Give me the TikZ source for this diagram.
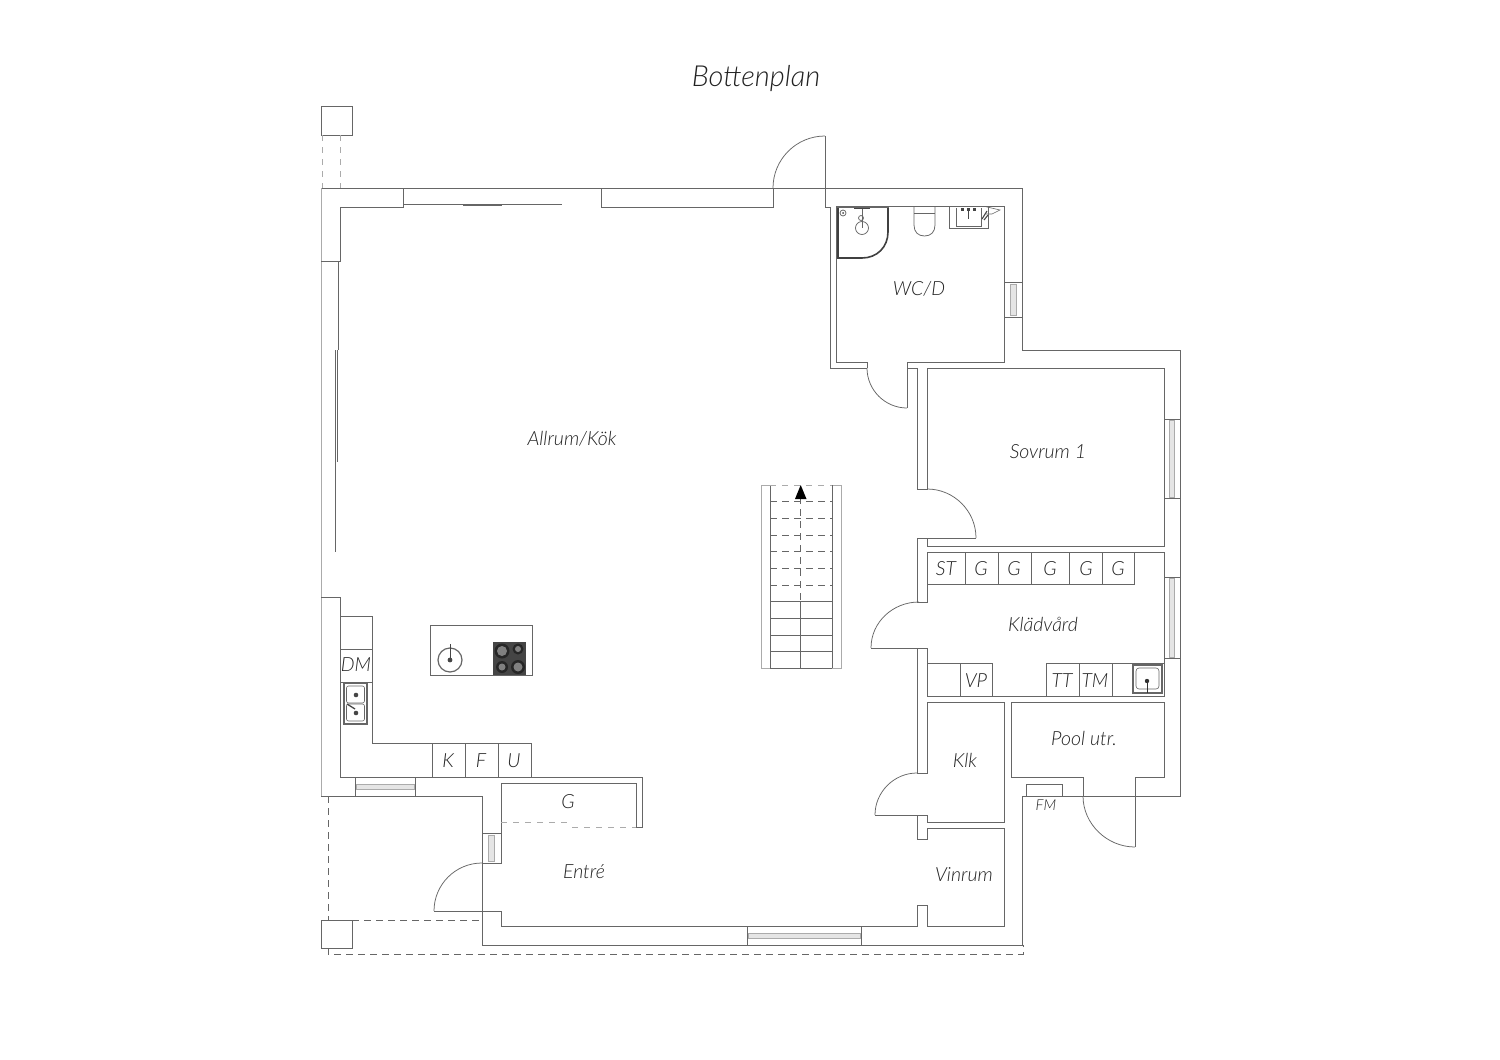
\documentclass[tikz,border=0pt]{standalone}
\usepackage{fontspec}
\setmainfont{Lato}[ItalicFont={Lato Light Italic}]
\usetikzlibrary{arrows.meta}
\definecolor{ln}{HTML}{666666}
\definecolor{lnl}{HTML}{ABABAB}
\definecolor{txt}{HTML}{222222}
\definecolor{hob}{HTML}{454545}
\tikzset{
  wall/.style={draw=ln,line width=0.85pt,line join=miter},
  lite/.style={draw=lnl,line width=0.9pt},
  fine/.style={draw=ln,line width=0.75pt},
  heavy/.style={draw=ln,line width=2pt},
  dashd/.style={draw=ln,line width=0.75pt,dash pattern=on 7pt off 5pt},
  dashl/.style={draw=lnl,line width=0.9pt,dash pattern=on 6pt off 6pt},
  lab/.style={text=txt,font=\itshape\fontsize{17.5}{20}\selectfont,inner sep=0pt},
  lab2/.style={lab,font=\itshape\fontsize{19.5}{22}\selectfont},
  winpane/.style={draw=lnl,line width=0.7pt,fill=black!10},
}
\begin{document}
\begin{tikzpicture}[x=1pt,y=-1pt]
\useasboundingbox (0,0) rectangle (1500,1060);
\fill[white] (0,0) rectangle (1500,1060);

% outer shell
\draw[wall] (321,188) -- (1022,188) -- (1022,350) -- (1180,350) -- (1180,796) -- (1022,796) -- (1022,945) -- (482,945) -- (482,796) -- (321,796);
\draw[lite] (321,188) -- (321,796);

% north / west inner walls
\draw[wall] (403,188) -- (403,207) -- (340,207) -- (340,261) -- (321,261);
\draw[wall] (338.5,261) -- (338.5,350);
\draw[fine] (337,350) -- (337,462);
\draw[fine] (335,350) -- (335,552);
\draw[wall] (403,204) -- (562,204);
\draw[heavy,line width=1.4pt] (463,205) -- (502,205);
\draw[wall] (601,188) -- (601,207) -- (773,207) -- (773,188);
\draw[wall] (825,136) -- (825,207) -- (830,207) -- (830,368) -- (867,368);
\draw[wall] (321,597) -- (340,597) -- (340,777);

% doors (arcs)
\draw[fine] (773,188) .. controls (773,159.3) and (796.3,136) .. (825,136);
\draw[fine] (867,368) .. controls (867,390) and (885,408) .. (907,408);
\draw[fine] (927,489) .. controls (954,489) and (976,511) .. (976,538);
\draw[fine] (919,602) .. controls (893,602) and (871,622) .. (871,648);
\draw[fine] (917,773) .. controls (894,773) and (875,792) .. (875,815);
\draw[fine] (1083,796) .. controls (1083,824) and (1107,847) .. (1135,847);
\draw[fine] (482,863) .. controls (455.5,863) and (434,884.5) .. (434,911);

% WC/D room
\draw[wall] (867,368) -- (867,362) -- (836,362) -- (836,206) -- (1004,206) -- (1004,362) -- (907,362) -- (907,408);
\draw[wall] (907,368) -- (917,368) -- (917,489) -- (927,489) -- (927,368) -- (1164,368) -- (1164,546) -- (927,546) -- (927,538);
\draw[wall] (976,538) -- (917,538) -- (917,602) -- (927,602) -- (927,552) -- (1164,552) -- (1164,696) -- (927,696) -- (927,648) -- (871,648);
\draw[wall] (917,648) -- (917,773) -- (927,773) -- (927,702) -- (1004,702) -- (1004,822) -- (927,822) -- (927,815) -- (875,815);
\draw[wall] (917,815) -- (917,839) -- (927,839) -- (927,828) -- (1004,828) -- (1004,926) -- (927,926) -- (927,905) -- (917,905) -- (917,926) -- (501,926) -- (501,911) -- (434,911);

% pool room
\draw[wall] (1083,796) -- (1083,777) -- (1011,777) -- (1011,702) -- (1164,702) -- (1164,777) -- (1135,777) -- (1135,847);
\draw[wall] (1026,796) -- (1026,784) -- (1062,784) -- (1062,796);

% entry / G closet
\draw[wall] (340,777) -- (642,777) -- (642,827) -- (636,827) -- (636,783) -- (501,783) -- (501,863) -- (482,863);
\draw[dashl] (501,822.5) -- (572,822.5);
\draw[dashl] (572,827) -- (636,827);

% kitchen
\draw[wall] (340,616) -- (372,616) -- (372,743) -- (531,743) -- (531,777);
\draw[wall] (340,649) -- (372,649);
\draw[wall] (340,682) -- (372,682);
\draw[wall] (432,743) -- (432,777);
\draw[wall] (465,743) -- (465,777);
\draw[wall] (498,743) -- (498,777);

% island
\draw[wall] (430,625) rectangle (532,675);
\draw[wall,line width=1.2pt] (450,660) circle[radius=12pt];
\fill[hob] (450,660) circle[radius=2.4pt];
\draw[hob,line width=1pt] (450,644) -- (450,660);
\fill[hob] (493,642) rectangle (526,675);
\foreach \cx/\cy/\ro/\ri in {502/651/7.5/5,518/649/5.5/3,502/667/6/3.5,518/667/7/4.5}{
  \fill[black!85] (\cx,\cy) circle[radius=\ro pt];
  \fill[black!50] (\cx,\cy) circle[radius=\ri pt];
}

% double sink
\draw[ln,line width=1.3pt] (344,683) rectangle (367,724);
\draw[fine,line width=0.6pt,rounded corners=2pt] (346.5,686) rectangle (364.5,703);
\draw[fine,line width=0.6pt,rounded corners=2pt] (346.5,704) rectangle (364.5,721);
\fill[hob] (356,695) circle[radius=2.3pt];
\fill[hob] (356,713) circle[radius=2.3pt];
\draw[hob,line width=1.3pt] (347,704) -- (355,709);

% laundry fixtures
\draw[wall] (927,584) -- (1134,584) -- (1134,552);
\foreach \x in {965,998,1031,1069,1102} \draw[wall] (\x,552) -- (\x,584);
\draw[wall] (927,663) -- (992,663) -- (992,696);
\draw[wall] (960,663) -- (960,696);
\draw[wall] (1046,696) -- (1046,663) -- (1164,663);
\draw[wall] (1079,663) -- (1079,696);
\draw[wall] (1112,663) -- (1112,696);
\draw[ln,line width=1.5pt] (1133,665) rectangle (1162,693);
\draw[fine,line width=0.6pt,rounded corners=3pt] (1136,668) rectangle (1159,689);
\fill[black!80] (1147,681) circle[radius=2.2pt];
\draw[black!80,line width=0.9pt] (1147,681) -- (1147,693);

% windows
\draw[wall] (1164,419) -- (1180,419);
\draw[wall] (1164,498) -- (1180,498);
\draw[winpane] (1169,420) rectangle (1174,497);
\draw[wall] (1164,577) -- (1180,577);
\draw[wall] (1164,658) -- (1180,658);
\draw[winpane] (1169,578) rectangle (1174,657);
\draw[wall] (1004,282) -- (1022,282);
\draw[wall] (1004,317) -- (1022,317);
\draw[winpane] (1010,284) rectangle (1016,315);
\draw[wall] (482,833) -- (501,833);
\draw[winpane] (488,835) rectangle (494,861);
\draw[wall] (355,777) -- (355,796);
\draw[wall] (415,777) -- (415,796);
\draw[winpane] (356,784) rectangle (414,789);
\draw[wall] (747,926) -- (747,945);
\draw[wall] (861,926) -- (861,945);
\draw[winpane] (748,933) rectangle (860,938);

% bathroom fixtures
\draw[draw=black!75,line width=1.6pt] (838,207) -- (838,258) -- (862,258) .. controls (877,258) and (888,247) .. (888,232) -- (888,207);
\draw[ln,line width=0.6pt] (836.5,207) -- (889,207);
\draw[fine] (843,213) circle[radius=3pt];
\fill[hob] (843,213) circle[radius=1pt];
\draw[hob,line width=1.3pt] (854,208.5) -- (870,208.5);
\draw[fine] (862,228) circle[radius=6.5pt];
\draw[fine] (862,209) -- (862,228);
\draw[fine] (861,218) circle[radius=2.5pt];
\draw[fine] (914,206) -- (914,225) .. controls (914,232) and (918,236) .. (924.5,236) .. controls (931,236) and (935,232) .. (935,225) -- (935,206);
\draw[fine] (914,213) -- (935,213);
\draw[fine] (949,206) -- (949,228) -- (988,228) -- (988,206);
\draw[fine] (956,208) -- (956,226.5) -- (981,226.5) -- (981,208);
\fill[hob] (961,207.5) rectangle (964,211);
\fill[hob] (967,207.5) rectangle (970,211);
\fill[hob] (973,207.5) rectangle (976,211);
\draw[hob,line width=1pt] (968.5,209) -- (968.5,219);
\draw[fine,line width=0.6pt] (985,206.5) -- (1000,210) -- (992,214) -- (986,214);
\draw[hob,line width=1.1pt] (982,219) -- (987,211);
\draw[hob,line width=1.1pt] (984,220) -- (988,215);

% stairs
\draw[lite] (770,485) -- (761,485) -- (761,668) -- (841,668) -- (841,485) -- (832,485);
\draw[wall] (770,485) -- (770,668);
\draw[wall] (832,485) -- (832,668);
\draw[dashl] (770,485) -- (832,485);
\foreach \y in {501.7,518.3,535,551.7,568.3,585} \draw[dashd] (770,\y) -- (832,\y);
\draw[wall] (770,601) -- (832,601);
\draw[wall] (770,618) -- (832,618);
\draw[wall] (770,635) -- (832,635);
\draw[wall] (770,651) -- (832,651);
\draw[wall] (770,668) -- (832,668);
\draw[dashd] (800.7,497) -- (800.7,601);
\draw[wall] (800.7,601) -- (800.7,668);
\fill[black] (800.7,485) -- (806.5,499) -- (795,499) -- cycle;

% porch posts and dashed outlines
\draw[wall] (321,106) rectangle (352,135);
\draw[wall] (321,920) rectangle (352,948);
\draw[dashl] (322,135) -- (322,188);
\draw[dashl] (340,135) -- (340,188);
\draw[dashd] (328,796) -- (328,920);
\draw[dashd] (352,920) -- (482,920);
\draw[dashd] (328,948) -- (328,954) -- (1023,954) -- (1023,945);

% labels
\node[lab,font=\itshape\fontsize{29}{32}\selectfont] (title) at (756,79) {Bottenplan};
\node[lab2] (allrum) at (572,439) {Allrum/Kök};
\node[lab2] (sovrum) at (1048,452) {Sovrum 1};
\node[lab2] (wcd) at (919,289) {WC/D};
\node[lab2] (kladvard) at (1043,624) {Klädvård};
\node[lab2] (pool) at (1084,738) {Pool utr.};
\node[lab2] (klk) at (965,760) {Klk};
\node[lab2] (vinrum) at (964,875) {Vinrum};
\node[lab2] (entre) at (584,872) {Entré};
\node[lab2] (gg) at (568,802) {G};
\node[lab2] (dm) at (356,665) {DM};
\node[lab2] (k) at (448,761) {K};
\node[lab2] (f) at (481,761) {F};
\node[lab2] (u) at (514,761) {U};
\node[lab2] (st) at (946,569) {ST};
\node[lab2] (g1) at (981,569) {G};
\node[lab2] (g2) at (1014,569) {G};
\node[lab2] (g3) at (1050,569) {G};
\node[lab2] (g4) at (1086,569) {G};
\node[lab2] (g5) at (1118,569) {G};
\node[lab2] (vp) at (976,681) {VP};
\node[lab2] (tt) at (1062,681) {TT};
\node[lab2] (tm) at (1095,681) {TM};
\node[lab,font=\itshape\fontsize{15}{17}\selectfont] (fm) at (1046,805) {FM};
\end{tikzpicture}
\end{document}
